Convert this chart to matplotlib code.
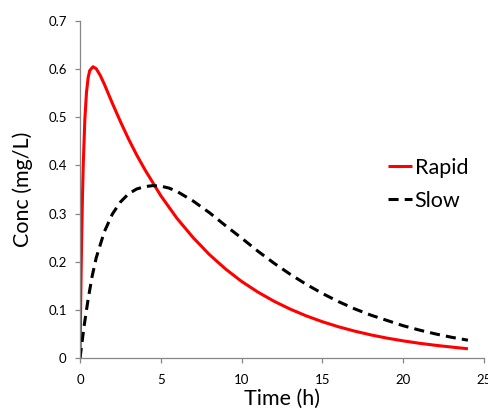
import matplotlib
matplotlib.use("Agg")
import matplotlib.pyplot as plt

# concentration-time profiles
rapid_time = [0, 0.05, 0.1, 0.15, 0.2, 0.3, 0.4, 0.5, 0.6, 0.8, 1.0, 1.25, 1.5,
              2, 2.5, 3, 3.5, 4, 5, 6, 7, 8, 9, 10, 11, 12, 13, 14, 15, 16,
              17, 18, 19, 20, 21, 22, 23, 24]
rapid_conc = [0, 0.139, 0.248, 0.335, 0.403, 0.497, 0.552, 0.582, 0.597, 0.605,
              0.601, 0.587, 0.569, 0.529, 0.491, 0.455, 0.422, 0.392, 0.337,
              0.290, 0.250, 0.215, 0.185, 0.159, 0.137, 0.118, 0.1016, 0.0875,
              0.0753, 0.0648, 0.0558, 0.0480, 0.0413, 0.0356, 0.0306, 0.0264,
              0.0227, 0.0192]

slow_time = [0, 0.25, 0.5, 0.75, 1, 1.5, 2, 2.5, 3, 3.5, 4, 4.5, 5, 5.5, 6, 7,
             8, 9, 10, 11, 12, 13, 14, 15, 16, 17, 18, 19, 20, 21, 22, 23, 24]
slow_conc = [0, 0.066, 0.122, 0.170, 0.208, 0.262, 0.299, 0.324, 0.341, 0.351,
             0.356, 0.358, 0.357, 0.353, 0.346, 0.326, 0.302, 0.275, 0.249,
             0.222, 0.197, 0.174, 0.153, 0.134, 0.117, 0.102, 0.089, 0.078,
             0.067, 0.058, 0.050, 0.043, 0.037]

x_ticks = [0, 5, 10, 15, 20, 25]
y_ticks = [0, 0.1, 0.2, 0.3, 0.4, 0.5, 0.6, 0.7]

plt.rcParams["font.family"] = ["Lato", "DejaVu Sans"]

fig = plt.figure(figsize=(4.88, 4.18), dpi=100)
ax = fig.add_axes([0.164, 0.1435, 0.828, 0.8063])

ax.plot(rapid_time, rapid_conc, color="#ff0000", lw=2.2, label="Rapid",
        solid_capstyle="butt")
ax.plot(slow_time, slow_conc, color="black", lw=2.2, label="Slow",
        linestyle=(0, (3.3, 2.0)), dash_capstyle="butt")

ax.set_xlim(0, 25)
ax.set_ylim(0, 0.7)
ax.set_xticks(x_ticks)
ax.set_yticks(y_ticks)
ax.set_xticklabels([str(v) for v in x_ticks])
ax.set_yticklabels(["0"] + [f"{v:.1f}" for v in y_ticks[1:]])

for side in ("top", "right"):
    ax.spines[side].set_visible(False)
for side in ("left", "bottom"):
    ax.spines[side].set_color("#868686")
    ax.spines[side].set_linewidth(0.9)
ax.tick_params(axis="both", direction="out", length=3.6, width=0.9,
               color="#868686", labelsize=9.5, labelcolor="black")
ax.tick_params(axis="x", pad=8)
ax.tick_params(axis="y", pad=6)

ax.set_xlabel("Time (h)", fontsize=15.5, labelpad=2)
ax.set_ylabel("Conc (mg/L)", fontsize=15.5, labelpad=11)

ax.legend(loc="upper left", bbox_to_anchor=(0.74, 0.62), frameon=False,
          fontsize=15.5, handlelength=1.15, handletextpad=0.1,
          labelspacing=0.6, borderaxespad=0)

fig.savefig("out.png", dpi=100)
plt.close(fig)
